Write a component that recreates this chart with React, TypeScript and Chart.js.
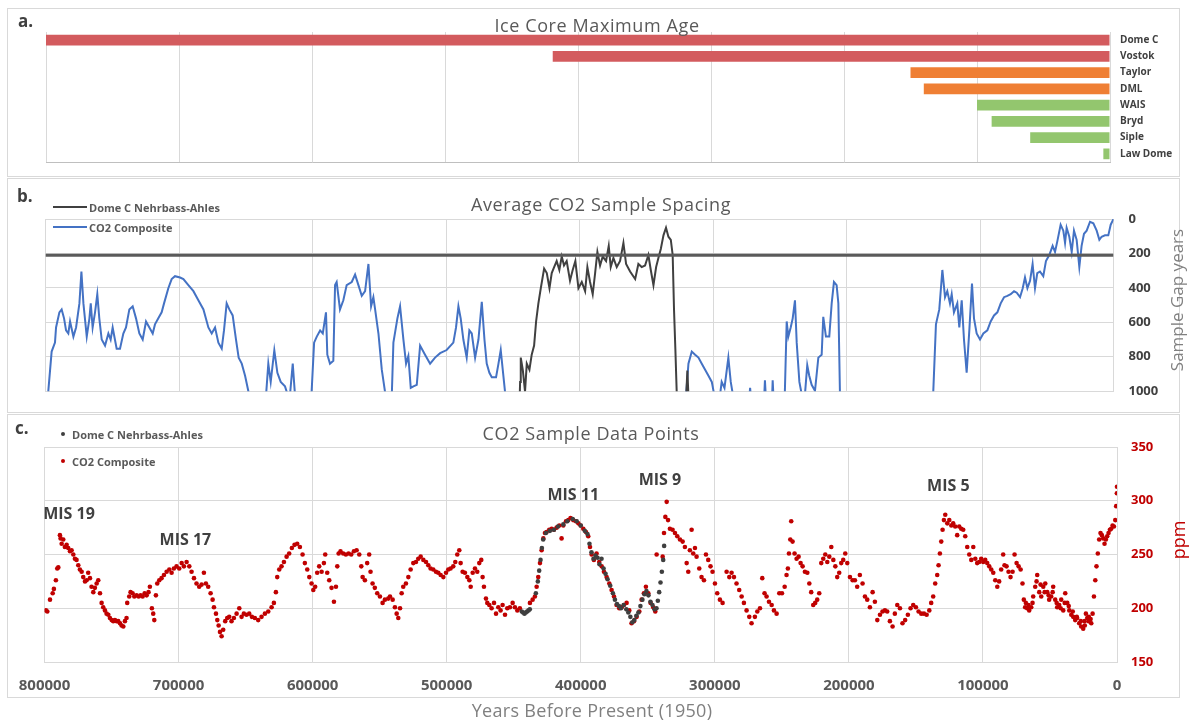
import React, { useEffect, useRef } from "react";
import { Chart, registerables } from "chart.js";
Chart.register(...registerables);

const FONT = "'Open Sans', 'DejaVu Sans', sans-serif";

// ---------- Panel a: ice core maximum age ----------
const coreNames = ["Dome C", "Vostok", "Taylor", "DML", "WAIS", "Bryd", "Siple", "Law Dome"];
const coreMaxAge = [800000, 419000, 150000, 140000, 100000, 89000, 60000, 5000];
const RED = "#d35b5e";
const ORANGE = "#ef7f34";
const GREEN = "#93c66e";
const coreColors = [RED, RED, ORANGE, ORANGE, GREEN, GREEN, GREEN, GREEN];

// ---------- shared x axis ----------
const xMin = 0;
const xMax = 800000;
const xStep = 100000;

// ---------- Panel b: average sample spacing (age kyr, gap years) ----------
const domeCMeanGap = 210;
const compositeSpacing: [number, number][] = [
  [800, 1100], [797.9, 1000], [795.4, 770], [792.9, 718], [792.1, 630], [789.6, 542], [787.9, 525], [786.1, 577],
  [784.6, 647], [782.9, 665], [781.6, 595], [779.1, 683], [777.1, 630], [774.6, 490], [773.1, 305], [771.6, 490],
  [769.1, 683], [767.1, 577], [766.1, 490], [764.7, 630], [762.9, 542], [761.2, 437], [759.7, 577], [757.9, 700],
  [755.4, 735], [752.9, 665], [751.2, 700], [749.7, 630], [746.7, 753], [744.2, 753], [741.7, 665], [739.7, 630],
  [737.2, 525], [734.7, 507], [732.2, 577], [729.7, 665], [727.2, 700], [724.7, 595], [722.2, 630], [719.7, 665],
  [718.0, 612], [715.5, 577], [713.0, 542], [711.2, 490], [708.0, 402], [705.5, 349], [703.0, 332], [699.2, 340],
  [696.7, 349], [693.0, 384], [689.2, 419], [685.5, 472], [681.7, 525], [678.0, 630], [675.5, 665], [673.0, 630],
  [670.5, 718], [668.0, 753], [666.3, 647], [664.3, 490], [662.3, 525], [659.8, 560], [657.3, 700], [655.3, 805],
  [653.0, 840], [650.5, 910], [648.0, 1002], [645.5, 1100], [635.5, 1100], [633.1, 840], [631.3, 946], [628.6, 762],
  [626.3, 893], [623.8, 946], [620.6, 972], [618.8, 1016], [616.8, 1016], [614.8, 840], [613.3, 1002], [611.8, 1100],
  [601.3, 1100], [598.8, 718], [596.8, 683], [594.3, 647], [592.3, 665], [589.9, 542], [588.9, 788], [586.9, 840],
  [584.4, 823], [583.1, 384], [581.9, 366], [579.4, 525], [576.9, 472], [574.4, 384], [570.6, 366], [568.1, 323],
  [565.6, 384], [563.1, 446], [560.6, 419], [558.1, 261], [556.1, 507], [554.4, 454], [553.1, 525], [550.6, 665],
  [548.1, 875], [545.7, 1002], [543.2, 1100], [540.5, 1000], [539.4, 718], [536.4, 577], [534.4, 507], [531.9, 700],
  [529.9, 840], [528.2, 796], [526.4, 981], [524.4, 972], [521.9, 963], [519.4, 735], [515.7, 788], [511.9, 840],
  [508.2, 805], [504.4, 779], [499.5, 761], [494.5, 718], [492.5, 630], [490.7, 507], [489.0, 577], [487.0, 700],
  [484.5, 805], [482.5, 647], [480.7, 665], [478.2, 805], [475.7, 700], [473.2, 481], [471.2, 700], [469.5, 840],
  [467.5, 893], [465.7, 919], [462.5, 919], [460.7, 840], [459.0, 761], [457.5, 875], [455.8, 1002], [454.0, 1100],
  [320.9, 1100], [318.4, 840], [315.9, 770], [313.4, 788], [310.9, 805], [308.4, 840], [305.9, 875], [303.4, 910],
  [300.9, 946], [299.2, 1016], [296.0, 1100], [293.5, 946], [291.4, 981], [288.5, 805], [286.7, 946], [285.2, 1016],
  [282.2, 1100], [273.5, 1100], [272.2, 981], [270.9, 1100], [262.0, 1100], [261.1, 937], [260.0, 1100], [256.0, 1100],
  [255.3, 937], [254.3, 1100], [246.5, 1100], [244.8, 595], [243.6, 683], [241.8, 630], [240.3, 577], [238.6, 472],
  [237.3, 718], [235.3, 946], [233.6, 1016], [231.1, 1016], [229.4, 849], [227.9, 910], [226.1, 963], [223.6, 998],
  [221.1, 805], [218.6, 788], [217.4, 568], [215.4, 683], [212.9, 683], [211.1, 490], [209.4, 366], [207.4, 384],
  [206.1, 490], [204.9, 1016], [202.9, 1100], [137.5, 1100], [135.0, 1002], [133.0, 612], [130.5, 525], [128.2, 296],
  [126.2, 454], [124.5, 419], [122.5, 490], [121.2, 437], [119.5, 542], [117.0, 490], [115.5, 630], [113.7, 472],
  [112.0, 700], [110.0, 893], [108.0, 647], [106.0, 375], [104.5, 577], [102.5, 665], [100.0, 700], [97.5, 665],
  [94.5, 647], [92.0, 595], [89.5, 560], [87.0, 542], [84.5, 490], [82.0, 454], [79.5, 446], [77.0, 437],
  [74.5, 419], [72.5, 428], [70.0, 454], [68.0, 402], [66.3, 340], [64.5, 402], [62.5, 358], [60.6, 261],
  [58.8, 402], [57.1, 314], [55.1, 305], [52.6, 332], [50.6, 244], [48.1, 209], [45.6, 156], [43.8, 191],
  [42.1, 130], [39.6, 33], [37.6, 68], [36.3, 139], [35.1, 51], [33.1, 103], [31.3, 191], [29.6, 68],
  [27.6, 121], [25.6, 279], [23.9, 156], [22.1, 86], [20.1, 68], [17.6, 16], [15.1, 25], [12.6, 68],
  [10.6, 121], [8.9, 103], [6.4, 95], [3.9, 95], [2.1, 33], [0, 0],
];
const domeCSpacing: [number, number][] = [
  [445, 1100], [444.5, 946], [444.0, 805], [442.5, 875], [440.8, 1002], [439.5, 840], [437.5, 875], [435.8, 788],
  [434.0, 735], [432.5, 595], [430.8, 490], [429.0, 402], [426.5, 288], [424.5, 314], [422.5, 402], [420.8, 314],
  [419.0, 279], [417.1, 244], [415.1, 296], [413.3, 218], [411.6, 270], [409.6, 244], [407.1, 358], [405.1, 296],
  [403.1, 244], [400.8, 402], [398.3, 366], [395.8, 419], [394.1, 279], [392.1, 366], [390.1, 437], [388.3, 314],
  [386.6, 191], [384.6, 270], [382.6, 218], [380.1, 244], [378.1, 156], [376.6, 279], [374.6, 226], [372.1, 279],
  [369.6, 244], [367.1, 139], [365.1, 261], [362.1, 305], [358.3, 349], [355.9, 261], [353.4, 279], [350.9, 270],
  [348.4, 209], [346.6, 296], [344.6, 384], [342.6, 279], [340.9, 226], [339.1, 174], [337.1, 95], [335.2, 51],
  [333.4, 103], [331.6, 121], [330.2, 209], [329.2, 525], [328.2, 753], [327.2, 1002], [326.2, 1100], [320.5, 1100],
  [319.2, 880], [318.0, 1100],
];
const gapTicksMax = 1000;
const gapStep = 200;

// ---------- Panel c: CO2 data points (age kyr, ppm) ----------
const compositeCO2: [number, number][] = [
  [798.9, 198], [797.9, 197], [795.9, 208], [793.9, 214], [793.0, 218], [791.5, 226], [790.5, 237], [789.7, 238],
  [788.5, 268], [788.0, 265], [787.2, 260], [786.0, 264], [784.8, 257], [783.5, 259], [782.3, 256], [781.0, 253],
  [779.8, 254], [778.5, 250], [777.3, 246], [776.1, 245], [774.8, 240], [773.6, 236], [772.3, 234], [771.1, 229],
  [769.8, 225], [768.6, 226], [767.4, 233], [766.1, 228], [764.9, 220], [763.6, 215], [762.4, 219], [761.1, 223],
  [759.9, 226], [758.6, 214], [757.4, 205], [756.2, 201], [754.9, 198], [753.7, 195], [752.4, 194], [751.2, 191],
  [749.9, 189], [748.7, 188], [747.5, 189], [746.2, 188], [745.0, 188], [743.7, 186], [742.5, 184], [741.2, 183],
  [740.0, 188], [738.8, 191], [738.3, 205], [736.8, 211], [735.8, 215], [734.3, 214], [733.0, 211], [731.3, 212],
  [729.8, 211], [728.3, 212], [726.8, 211], [725.3, 214], [723.8, 212], [722.4, 215], [721.4, 220], [719.9, 200],
  [718.9, 195], [718.1, 189], [716.9, 212], [715.9, 223], [714.4, 226], [712.7, 228], [710.9, 231], [708.9, 234],
  [706.9, 236], [705.2, 233], [703.5, 237], [701.5, 239], [699.5, 237], [697.7, 242], [696.0, 239], [694.0, 243],
  [692.0, 239], [690.3, 234], [688.5, 228], [686.6, 223], [684.6, 220], [682.8, 222], [681.1, 233], [679.6, 223],
  [677.9, 220], [676.1, 214], [674.6, 208], [673.6, 201], [672.1, 195], [671.1, 189], [670.1, 184], [669.1, 178],
  [667.9, 174], [666.7, 180], [665.2, 188], [663.7, 191], [662.2, 192], [660.5, 188], [658.7, 191], [656.7, 195],
  [654.7, 200], [653.0, 192], [651.3, 195], [649.3, 194], [647.3, 195], [645.3, 192], [643.1, 191], [640.6, 189],
  [638.1, 192], [635.6, 195], [633.1, 197], [630.6, 201], [628.9, 205], [627.4, 215], [626.4, 229], [624.9, 236],
  [623.2, 239], [621.4, 243], [619.4, 248], [617.5, 251], [615.5, 256], [613.5, 259], [611.5, 260], [609.5, 257],
  [607.5, 250], [605.8, 242], [604.0, 236], [602.5, 229], [600.8, 223], [599.5, 217], [598.1, 220], [596.6, 233],
  [595.1, 239], [593.3, 234], [591.6, 242], [590.6, 250], [589.1, 233], [587.6, 226], [585.9, 219], [584.1, 206],
  [582.6, 220], [581.6, 239], [580.6, 251], [579.2, 253], [577.2, 251], [575.2, 250], [573.2, 251], [571.2, 250],
  [569.2, 253], [567.2, 254], [565.2, 250], [563.7, 239], [562.7, 229], [561.0, 226], [559.3, 242], [557.8, 250],
  [556.8, 234], [555.3, 223], [553.6, 219], [551.8, 214], [549.8, 211], [547.8, 205], [546.1, 208], [543.6, 209],
  [542.3, 211], [540.3, 208], [538.6, 201], [537.3, 195], [536.1, 191], [534.8, 200], [533.6, 214], [532.4, 220],
  [530.4, 223], [528.6, 229], [526.9, 236], [524.9, 242], [522.9, 243], [521.2, 246], [519.4, 248], [517.4, 245],
  [515.4, 243], [513.7, 240], [512.0, 237], [510.0, 236], [508.0, 234], [506.3, 233], [504.5, 231], [502.5, 229],
  [500.5, 233], [498.8, 236], [497.1, 237], [495.1, 239], [493.6, 243], [492.1, 250], [490.6, 254], [489.6, 242],
  [488.1, 234], [486.4, 233], [484.6, 229], [483.1, 226], [482.1, 220], [480.6, 233], [478.9, 237], [477.2, 234],
  [475.7, 242], [474.2, 245], [473.2, 229], [472.2, 220], [470.7, 209], [469.7, 205], [468.2, 203], [466.5, 200],
  [464.7, 205], [463.2, 195], [461.5, 201], [459.8, 198], [458.3, 203], [456.5, 194], [454.8, 200], [452.8, 201],
  [450.8, 205], [449.1, 201], [447.3, 198], [445.4, 200], [437.9, 205], [435.9, 208], [434.2, 211], [432.9, 220],
  [431.7, 229], [430.4, 242], [429.2, 254], [427.9, 265], [426.7, 270], [425.5, 271], [423.5, 273], [421.7, 274],
  [420.0, 273], [418.0, 275], [416.0, 277], [414.3, 265], [413.0, 277], [411.0, 281], [409.3, 282], [407.6, 284],
  [405.6, 282], [403.6, 281], [401.8, 279], [400.1, 277], [398.1, 274], [396.1, 271], [394.4, 267], [393.1, 257],
  [391.9, 250], [390.2, 245], [388.2, 251], [386.2, 243], [384.4, 239], [382.7, 234], [380.7, 229], [378.7, 223],
  [377.0, 217], [375.2, 211], [373.3, 203], [371.3, 200], [369.5, 201], [367.8, 203], [365.8, 205], [363.8, 198],
  [362.1, 186], [360.3, 188], [358.3, 192], [356.3, 197], [354.6, 208], [352.9, 214], [351.4, 220], [349.6, 214],
  [347.9, 205], [345.9, 201], [344.4, 197], [343.4, 250], [338.9, 248], [337.9, 270], [336.9, 285], [335.9, 299],
  [334.9, 282], [333.5, 274], [331.5, 273], [329.7, 270], [328.0, 267], [326.0, 264], [324.0, 262], [322.3, 257],
  [321.0, 242], [319.8, 234], [318.6, 254], [317.3, 273], [316.1, 251], [314.8, 256], [313.6, 248], [311.6, 237],
  [309.9, 229], [308.1, 226], [306.6, 250], [304.9, 245], [303.2, 239], [301.7, 234], [299.9, 223], [298.2, 214],
  [296.2, 208], [294.2, 205], [291.2, 234], [289.2, 229], [287.5, 233], [285.7, 229], [283.8, 223], [281.8, 217],
  [280.0, 211], [278.3, 205], [276.3, 198], [274.3, 192], [272.6, 186], [270.1, 192], [268.3, 197], [266.3, 200],
  [264.6, 228], [262.9, 214], [261.4, 211], [259.6, 206], [257.6, 203], [255.9, 198], [253.9, 195], [251.9, 214],
  [249.9, 214], [247.9, 220], [246.5, 231], [245.5, 237], [244.7, 251], [243.7, 264], [243.0, 281], [242.0, 262],
  [240.5, 251], [239.0, 246], [237.5, 248], [236.0, 242], [234.5, 239], [232.8, 234], [231.0, 233], [229.5, 223],
  [228.1, 215], [226.6, 203], [225.1, 205], [223.6, 208], [222.1, 214], [220.6, 242], [219.1, 246], [217.6, 250],
  [216.1, 243], [214.6, 248], [213.1, 257], [211.6, 245], [210.1, 239], [208.7, 229], [207.2, 233], [205.7, 242],
  [204.2, 245], [202.7, 251], [201.2, 242], [199.2, 229], [197.2, 226], [195.5, 226], [193.8, 220], [191.8, 231],
  [189.8, 223], [188.0, 211], [186.3, 208], [184.3, 201], [182.3, 215], [180.6, 206], [178.8, 189], [176.8, 194],
  [174.9, 197], [173.1, 198], [171.4, 197], [169.4, 188], [167.4, 183], [165.7, 195], [163.9, 203], [161.9, 200],
  [160.0, 186], [158.0, 189], [156.0, 194], [154.0, 200], [152.0, 203], [150.0, 201], [148.0, 197], [146.0, 195],
  [144.0, 195], [142.0, 194], [140.0, 198], [138.6, 205], [137.1, 211], [135.6, 223], [134.1, 231], [133.1, 240],
  [132.1, 251], [131.1, 262], [130.1, 273], [129.1, 282], [128.1, 287], [126.6, 279], [125.1, 282], [123.6, 277],
  [122.2, 279], [120.7, 276], [119.2, 268], [117.7, 276], [116.2, 274], [114.7, 273], [113.2, 267], [111.7, 257],
  [110.2, 250], [108.7, 245], [107.2, 257], [105.7, 246], [104.3, 242], [102.8, 243], [101.3, 246], [99.8, 243],
  [98.3, 245], [96.8, 242], [95.3, 239], [93.8, 236], [92.3, 233], [90.8, 226], [89.3, 220], [87.9, 225],
  [86.4, 236], [84.9, 250], [83.9, 240], [82.4, 239], [80.9, 234], [79.4, 229], [77.9, 234], [76.4, 250],
  [74.9, 242], [73.4, 239], [71.9, 236], [70.5, 223], [69.5, 208], [68.5, 201], [68.0, 205], [67.0, 200],
  [66.0, 203], [65.5, 198], [64.0, 201], [63.0, 205], [62.5, 211], [61.0, 220], [60.0, 225], [59.5, 231],
  [58.0, 215], [57.0, 222], [56.5, 211], [55.0, 220], [54.0, 215], [53.5, 223], [52.0, 215], [51.0, 212],
  [50.6, 208], [49.1, 211], [48.0, 215], [47.6, 220], [46.1, 208], [45.0, 205], [44.6, 201], [43.1, 203],
  [42.0, 200], [41.6, 208], [40.1, 198], [39.0, 205], [38.6, 214], [37.1, 205], [36.0, 202], [35.6, 198],
  [34.1, 194], [33.0, 197], [32.7, 192], [31.2, 189], [30.0, 192], [29.7, 191], [28.2, 186], [27.0, 188],
  [26.7, 183], [25.2, 181], [24.2, 188], [24.0, 184], [23.2, 195], [22.2, 191], [21.2, 188], [21.0, 192],
  [20.2, 189], [19.7, 190], [19.2, 186], [18.2, 195], [17.2, 211], [16.2, 226], [15.3, 239], [14.3, 251],
  [13.3, 264], [12.3, 270], [11.3, 268], [10.3, 265], [9.3, 260], [8.3, 264], [7.3, 267], [6.3, 270],
  [5.3, 273], [4.3, 274], [3.3, 277], [2.3, 276], [1.3, 282], [0.6, 295], [0.1, 307], [0.0, 313],
];
const domeCCO2: [number, number][] = [
  [444, 197], [443, 196], [442, 195], [441, 196], [440, 197], [439, 198], [438, 199], [433.5, 214],
  [432, 225], [431, 235], [430, 245], [429, 256], [428, 264], [426, 270], [423, 272], [420, 273],
  [417, 276], [413, 278], [410, 281], [406, 283], [403, 281], [400, 277], [397, 272], [395, 269],
  [393.5, 260], [392, 252], [390.5, 246], [389, 249], [387.5, 247], [386, 241], [384.5, 246], [383, 237],
  [381.5, 232], [380, 227], [378, 221], [376, 214], [374.5, 208], [373, 204], [371.5, 202], [370, 200],
  [368, 203], [366, 199], [364.5, 196], [363, 192], [361.5, 187], [360, 189], [358.5, 193], [357, 196],
  [355.5, 202], [354, 208], [352.5, 213], [351, 216], [349.5, 212], [348, 206], [346.5, 203], [345, 199],
  [343.5, 200], [342.5, 207], [341.5, 215], [340.5, 224], [339.5, 234], [338.5, 245], [337.8, 258],
];
const ppmMin = 150;
const ppmMax = 350;
const ppmStep = 50;

const misLabels = ["MIS 19", "MIS 17", "MIS 11", "MIS 9", "MIS 5"];
const misAgeKyr = [781.7, 694.9, 405.6, 340.9, 125.8];
const misPpm = [287, 263, 305, 319, 313];

const toXY = (arr: [number, number][]) => arr.map(([a, v]) => ({ x: a * 1000, y: v }));

const W = 1189;

function Txt(props: any) {
  const { x, y, text, size = 12, weight = "normal", color = "#595959", align = "center", rotate = 0, spacing = 0 } = props;
  const tx = align === "center" ? "-50%" : "0";
  return (
    <div
      style={{
        position: "absolute",
        left: x,
        top: y,
        transform: `translate(${tx}, -50%) rotate(${rotate}deg)`,
        fontFamily: FONT,
        fontSize: size,
        fontWeight: weight,
        letterSpacing: spacing,
        color,
        whiteSpace: "nowrap",
        lineHeight: 1,
      }}
    >
      {text}
    </div>
  );
}

function Box({ top, height }: { top: number; height: number }) {
  return (
    <div
      style={{
        position: "absolute",
        left: 7,
        top,
        width: 1173,
        height,
        border: "1px solid #d9d9d9",
        boxSizing: "border-box",
      }}
    />
  );
}

export default function App() {
  const refA = useRef<HTMLCanvasElement>(null);
  const refB = useRef<HTMLCanvasElement>(null);
  const refC = useRef<HTMLCanvasElement>(null);

  useEffect(() => {
    const grid = "#d9d9d9";
    const charts: Chart[] = [];
    const plainNum = (v: any) => String(v);

    charts.push(
      new Chart(refA.current!, {
        type: "bar",
        data: {
          labels: coreNames,
          datasets: [
            {
              data: coreMaxAge,
              backgroundColor: coreColors,
              categoryPercentage: 1,
              barPercentage: 0.66,
            },
          ],
        },
        options: {
          indexAxis: "y",
          animation: false,
          responsive: false,
          events: [],
          layout: { padding: { left: 46, top: 32, right: 0, bottom: 15 } },
          plugins: { legend: { display: false }, tooltip: { enabled: false } },
          scales: {
            x: {
              type: "linear",
              min: xMin,
              max: xMax,
              reverse: true,
              ticks: { display: false, stepSize: xStep },
              grid: { color: grid, drawTicks: false },
              border: { color: "#bfbfbf" },
              afterFit: (s: any) => {
                s.height = 0;
              },
            },
            y: {
              position: "right",
              grid: { display: false, drawTicks: false },
              border: { display: false },
              ticks: { color: "#404040", font: { family: FONT, size: 10, weight: "bold" }, padding: 10 },
              afterFit: (s: any) => {
                s.width = W - 1110;
              },
            },
          },
        } as any,
      })
    );

    charts.push(
      new Chart(refB.current!, {
        type: "scatter",
        data: {
          datasets: [
            {
              label: "Dome C Nehrbass-Ahles mean",
              data: [
                { x: xMax, y: domeCMeanGap },
                { x: xMin, y: domeCMeanGap },
              ],
              showLine: true,
              borderColor: "#5a5a5a",
              borderWidth: 3,
              pointRadius: 0,
            },
            {
              label: "Dome C Nehrbass-Ahles",
              data: toXY(domeCSpacing),
              showLine: true,
              borderColor: "#404040",
              borderWidth: 2,
              pointRadius: 0,
            },
            {
              label: "CO2 Composite",
              data: toXY(compositeSpacing),
              showLine: true,
              borderColor: "#4472c4",
              borderWidth: 2,
              pointRadius: 0,
            },
          ],
        },
        options: {
          animation: false,
          responsive: false,
          events: [],
          layout: { padding: { left: 45.5, top: 41, right: 0, bottom: 5 } },
          plugins: { legend: { display: false }, tooltip: { enabled: false } },
          scales: {
            x: {
              type: "linear",
              min: xMin,
              max: xMax,
              reverse: true,
              ticks: { display: false, stepSize: xStep },
              grid: { color: grid, drawTicks: false },
              border: { color: grid },
              afterFit: (s: any) => {
                s.height = 0;
              },
            },
            y: {
              position: "right",
              min: 0,
              max: gapTicksMax,
              reverse: true,
              ticks: {
                stepSize: gapStep,
                color: "#404040",
                font: { family: FONT, size: 13, weight: "bold" },
                padding: 15,
                callback: plainNum,
              },
              grid: { color: grid, drawTicks: false },
              border: { display: false },
              afterFit: (s: any) => {
                s.width = W - 1113.5;
              },
            },
          },
        } as any,
      })
    );

    const misPlugin = {
      id: "misLabels",
      afterDatasetsDraw(chart: any) {
        const { ctx, scales } = chart;
        ctx.save();
        ctx.font = `bold 16px ${FONT}`;
        ctx.fillStyle = "#404040";
        ctx.textAlign = "center";
        ctx.textBaseline = "middle";
        misLabels.forEach((t, i) => {
          ctx.fillText(t, scales.x.getPixelForValue(misAgeKyr[i] * 1000), scales.y.getPixelForValue(misPpm[i]));
        });
        ctx.restore();
      },
    };

    charts.push(
      new Chart(refC.current!, {
        type: "scatter",
        data: {
          datasets: [
            {
              label: "Dome C Nehrbass-Ahles",
              data: toXY(domeCCO2),
              backgroundColor: "#3f3f3f",
              pointRadius: 2.3,
              pointBorderWidth: 0,
            },
            {
              label: "CO2 Composite",
              data: toXY(compositeCO2),
              backgroundColor: "#c00000",
              pointRadius: 2.3,
              pointBorderWidth: 0,
            },
          ],
        },
        options: {
          animation: false,
          responsive: false,
          events: [],
          layout: { padding: { left: 44.5, top: 33, right: 0, bottom: 0 } },
          plugins: { legend: { display: false }, tooltip: { enabled: false } },
          scales: {
            x: {
              type: "linear",
              min: xMin,
              max: xMax,
              reverse: true,
              ticks: {
                stepSize: xStep,
                color: "#595959",
                font: { family: FONT, size: 15, weight: "bold" },
                padding: 15,
                callback: plainNum,
              },
              grid: { color: grid, drawTicks: false },
              border: { color: grid },
              afterFit: (s: any) => {
                s.height = 306 - 248;
              },
            },
            y: {
              position: "right",
              min: ppmMin,
              max: ppmMax,
              ticks: { stepSize: ppmStep, color: "#c00000", font: { family: FONT, size: 13, weight: "bold" }, padding: 14 },
              grid: { color: grid, drawTicks: false },
              border: { display: false },
              afterFit: (s: any) => {
                s.width = W - 1117;
              },
            },
          },
        } as any,
        plugins: [misPlugin],
      })
    );

    return () => charts.forEach((c) => c.destroy());
  }, []);

  const legendText = { size: 11, weight: "bold", color: "#595959", align: "left" };
  const titleText = { size: 18, spacing: 0.6, color: "#595959" };

  return (
    <div style={{ position: "absolute", left: 0, top: 0, width: W, height: 720, background: "#fff", overflow: "hidden" }}>
      <Box top={8} height={169} />
      <Box top={178} height={235} />
      <Box top={414} height={284} />

      <canvas ref={refA} width={W} height={178} style={{ position: "absolute", left: 0, top: 0 }} />
      <canvas ref={refB} width={W} height={236} style={{ position: "absolute", left: 0, top: 178 }} />
      <canvas ref={refC} width={W} height={306} style={{ position: "absolute", left: 0, top: 414 }} />

      <Txt x={18} y={20} text="a." size={17} weight="bold" color="#404040" align="left" />
      <Txt x={17} y={195} text="b." size={17} weight="bold" color="#404040" align="left" />
      <Txt x={15} y={427} text="c." size={17} weight="bold" color="#404040" align="left" />

      <Txt x={597} y={25} text="Ice Core Maximum Age" {...titleText} />
      <Txt x={601} y={204} text="Average CO2 Sample Spacing" {...titleText} />
      <Txt x={591} y={433} text="CO2 Sample Data Points" {...titleText} />

      <div style={{ position: "absolute", left: 53, top: 206, width: 34, height: 2, background: "#404040" }} />
      <Txt x={89} y={207} text="Dome C Nehrbass-Ahles" {...legendText} />
      <div style={{ position: "absolute", left: 53, top: 226, width: 34, height: 2, background: "#4472c4" }} />
      <Txt x={89} y={227} text="CO2 Composite" {...legendText} />

      <div style={{ position: "absolute", left: 61, top: 432, width: 4, height: 4, borderRadius: 2, background: "#3f3f3f" }} />
      <Txt x={72} y={434} text="Dome C Nehrbass-Ahles" {...legendText} />
      <div style={{ position: "absolute", left: 61, top: 459, width: 4, height: 4, borderRadius: 2, background: "#c00000" }} />
      <Txt x={72} y={461} text="CO2 Composite" {...legendText} />

      <Txt x={1176} y={300} text="Sample Gap years" size={17} color="#808080" rotate={-90} />
      <Txt x={1178} y={540} text="ppm" size={18} color="#c00000" rotate={-90} />
      <Txt x={592} y={710} text="Years Before Present (1950)" size={18} spacing={0.3} color="#808080" />
    </div>
  );
}
